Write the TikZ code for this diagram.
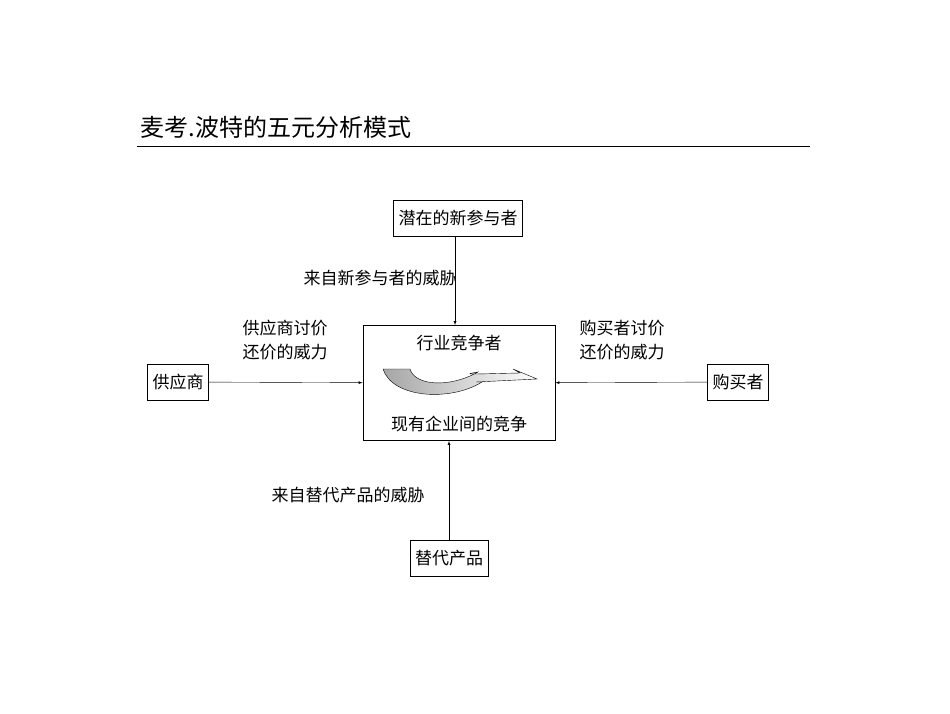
\documentclass[tikz,border=0pt]{standalone}
\usepackage{fontspec}
\setmainfont{Noto Sans CJK SC}
\tikzset{>=latex}
\begin{document}
\begin{tikzpicture}[x=1pt,y=-1pt]
  \tikzstyle{force}=[draw,thick,minimum height=36pt,inner sep=5pt,font=\fontsize{17}{20}\selectfont];
  \tikzstyle{lbl}=[align=center,font=\fontsize{17}{24}\selectfont];
  \useasboundingbox (0,0) rectangle (950,713);
  \node[anchor=west,font=\fontsize{24}{28}\selectfont] (title) at (137,127) {麦考.波特的五元分析模式};
  \draw (137,146)--(810,146);
  \node[force] (entrant) at (458,218) {潜在的新参与者};
  \node[draw,thick,minimum width=192pt,minimum height=115pt] (rival) at (459,383) {};
  \node[lbl] (rtop) at (459,343) {行业竞争者};
  \node[lbl] (rbot) at (459,424) {现有企业间的竞争};
  \node[force] (supplier) at (178,382) {供应商};
  \node[force] (buyer) at (738,382) {购买者};
  \node[force] (subst) at (449,558) {替代产品};
  \draw[->] (entrant.south -| 455,0) -- (rival.north -| 455,0);
  \draw[->] (supplier) -- (rival);
  \draw[->] (buyer) -- (rival);
  \draw[->] (subst.north) -- (rival.south -| subst.north);
  \node[lbl] (l1) at (380,278) {来自新参与者的威胁};
  \node[lbl] (l2) at (285,340) {供应商讨价\\还价的威力};
  \node[lbl] (l3) at (622,340) {购买者讨价\\还价的威力};
  \node[lbl] (l4) at (348,495) {来自替代产品的威胁};
  % curved arrow inside the box
  \shade[left color=gray!70,right color=white,draw=black] (383,369)
    .. controls (392,398) and (450,402) .. (482,382) -- (476,382)
    -- (537,379) -- (513,369) -- (520,373)
    .. controls (470,374) and (460,375) .. (478,372)
    .. controls (450,388) and (415,386) .. (410,369) -- cycle;
\end{tikzpicture}
\end{document}
